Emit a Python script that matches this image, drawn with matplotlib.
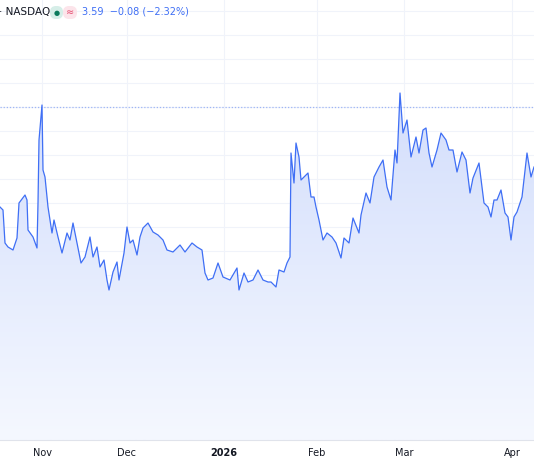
import matplotlib.pyplot as plt
from matplotlib.patches import FancyBboxPatch
from matplotlib.colors import LinearSegmentedColormap
import numpy as np

# timeline position (chart px along x) and level (px above baseline)
t = [0, 3, 5, 8, 13, 17, 19, 25, 27, 28,
     33, 37, 38, 39, 42, 43, 45, 48, 52, 54,
     58, 62, 67, 70, 73, 77, 81, 85, 90, 93,
     97, 100, 104, 107, 109, 113, 117, 119, 124, 127,
     130, 133, 137, 140, 143, 148, 153, 158, 163, 167,
     173, 180, 185, 192, 197, 202, 205, 208, 213, 218,
     223, 230, 237, 239, 244, 248, 253, 258, 263, 268,
     271, 276, 279, 284, 287, 290, 291, 294, 296, 299,
     301, 304, 308, 311, 314, 316, 319, 323, 327, 332,
     336, 341, 344, 349, 353, 359, 361, 366, 370, 374,
     379, 383, 387, 391, 395, 397, 400, 403, 407, 411,
     416, 419, 423, 426, 429, 432, 437, 441, 446, 449,
     453, 457, 462, 466, 470, 473, 479, 484, 488, 491,
     494, 497, 501, 505, 508, 511, 514, 517, 522, 527, 531, 534]
level = [253, 250, 217, 213, 210, 222, 257, 265, 260, 230,
         223, 212, 257, 320, 355, 290, 283, 253, 227, 240,
         223, 207, 227, 220, 237, 217, 197, 203, 223, 203,
         213, 193, 200, 180, 170, 188, 198, 180, 207, 233,
         217, 220, 205, 223, 232, 237, 228, 225, 220, 210,
         208, 215, 208, 217, 213, 210, 187, 180, 182, 197,
         183, 180, 192, 170, 187, 178, 180, 190, 180, 178,
         178, 173, 190, 188, 197, 203, 307, 277, 317, 303,
         280, 283, 287, 263, 263, 253, 240, 220, 227, 223,
         217, 202, 222, 217, 242, 227, 245, 267, 257, 283,
         293, 300, 273, 260, 310, 297, 367, 327, 340, 303,
         323, 307, 330, 332, 307, 293, 310, 327, 320, 310,
         310, 288, 308, 300, 267, 282, 297, 257, 253, 243,
         260, 260, 270, 247, 243, 220, 243, 248, 263, 307, 283, 293]

month_pos = [42, 127, 224, 317, 404, 512]
month_lbl = ['Nov', 'Dec', '2026', 'Feb', 'Mar', 'Apr']
ref_level = 353

line_c = '#3f6ff5'
fig = plt.figure(figsize=(5.34, 4.62), dpi=100)
ax = fig.add_axes([0, 22 / 462, 1, 440 / 462])
ax.set_xlim(0, 534)
ax.set_ylim(20, 460)

for g in np.arange(449, 20, -24):
    ax.axhline(g, color='#f0f3fa', lw=0.8, zorder=0)
for m in month_pos:
    ax.axvline(m, color='#f0f3fa', lw=0.8, zorder=0)

# gradient area fill clipped to the area under the line
poly = ax.fill_between(t, level, 20, color='none', lw=0, zorder=1)
cmap = LinearSegmentedColormap.from_list('g', ['#f5f8ff', '#d3defc'])
grad = np.linspace(0, 1, 256).reshape(-1, 1)
im = ax.imshow(grad, cmap=cmap, aspect='auto', origin='lower',
               extent=[0, 534, 20, 370], zorder=1)
im.set_clip_path(poly.get_paths()[0], transform=ax.transData)
ax.set_xlim(0, 534)
ax.set_ylim(20, 460)

ax.plot(t, level, color=line_c, lw=0.9, zorder=3)
ax.axhline(ref_level, color='#9fb6f5', lw=0.9, ls=(0, (1, 1.5)), zorder=2)

ax.set_xticks(month_pos)
ax.set_xticklabels(month_lbl)
for lab in ax.get_xticklabels():
    lab.set_fontsize(7)
    lab.set_color('#131722')
    if lab.get_text() == '2026':
        lab.set_fontweight('bold')
ax.tick_params(axis='x', length=0, pad=6)
ax.set_yticks([])
for s in ax.spines.values():
    s.set_visible(False)
ax.spines['bottom'].set_visible(True)
ax.spines['bottom'].set_color('#e0e3eb')

fig.text(-1, 450, '· NASDAQ', transform=None, fontsize=7.5, color='#131722', va='center')
fig.patches.append(FancyBboxPatch((50, 443), 13, 13, boxstyle='round,pad=0,rounding_size=6',
                                  transform=None, fc='#d6eee8', ec='none'))
fig.patches.append(FancyBboxPatch((63, 443), 14, 13, boxstyle='round,pad=0,rounding_size=6',
                                  transform=None, fc='#fce4ea', ec='none'))
fig.text(57, 449.5, '●', transform=None, fontsize=5, color='#0b7a5c', ha='center', va='center')
fig.text(70, 449.5, '≈', transform=None, fontsize=7, color='#e3456a', ha='center', va='center')
fig.text(82, 450, '3.59  −0.08 (−2.32%)', transform=None, fontsize=7, color='#3f6ff5', va='center')

fig.savefig('out.png', dpi=100, facecolor='white')
